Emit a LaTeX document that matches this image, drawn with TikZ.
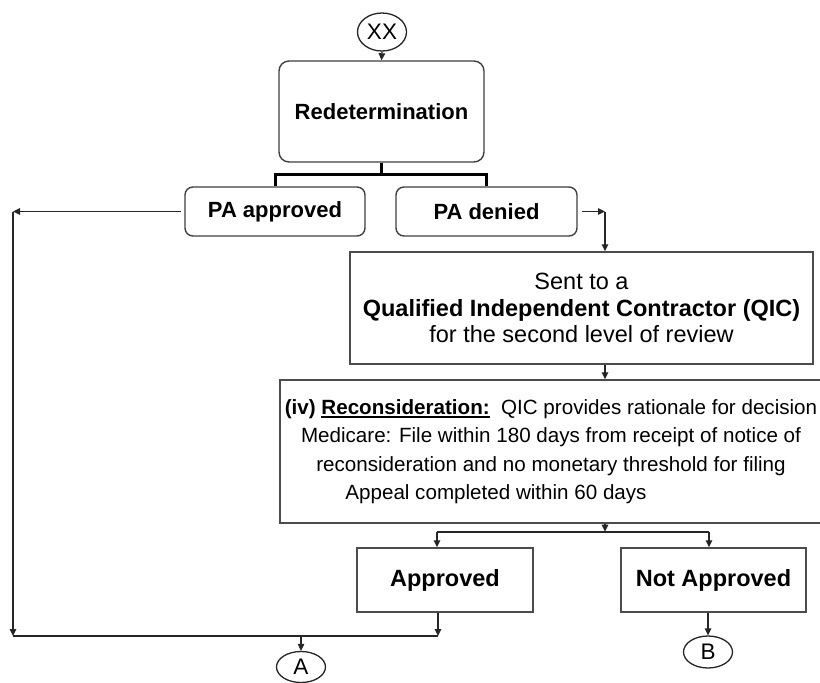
\documentclass[tikz,border=0pt]{standalone}
\usepackage{fontspec}
\setmainfont{Liberation Sans}
\usetikzlibrary{arrows.meta,shapes.geometric}
% bold word with a heavy underline
\newcommand\ulbold[1]{\setbox0\hbox{#1}\rlap{\rule[-3.5pt]{\wd0}{1.8pt}}\box0}
\begin{document}
\begin{tikzpicture}[x=1pt,y=-1pt,
  line/.style={draw=black!85, line width=1.3pt},
  arr/.style={line, -{Triangle[length=7pt,width=6.5pt]}},
  bar/.style={draw=black, line width=3pt},
  rbox/.style={draw=black!75, line width=1.4pt, rounded corners=10pt, inner sep=0pt,
    font=\fontsize{22}{26}\selectfont\bfseries},
  sbox/.style={draw=black!70, line width=1.4pt, inner sep=0pt, align=center},
  term/.style={ellipse, draw=black!85, line width=1.3pt, inner sep=0pt,
    minimum width=49pt, font=\fontsize{22.5}{26}\selectfont}]
\clip (0,0) rectangle (820,683);
\fill[white] (0,0) rectangle (820,683);

% top of the chart
\node[term, minimum height=38pt] (xx) at (382,32) {XX};
\node[rbox, minimum width=205pt, minimum height=101pt] (redet) at (381.5,111.5) {Redetermination};
\node[rbox, rounded corners=8pt, minimum width=180pt, minimum height=49pt] (pa) at (275,211.5) {PA approved};
\node[rbox, rounded corners=8pt, minimum width=181pt, minimum height=49pt] (pd) at (486.5,211.5) {PA denied};

% review boxes
\node[sbox, minimum width=463pt, minimum height=112pt, font=\fontsize{23.5}{26.5}\selectfont]
  (qic) at (581.5,308) {Sent to a\\\textbf{Qualified Independent Contractor (QIC)}\\for the second level of review};
\node[sbox, minimum width=542pt, minimum height=143pt, font=\fontsize{20.6}{28.5}\selectfont]
  (recon) at (551,451.5) {\textbf{(iv) \ulbold{Reconsideration:}}\ \ QIC provides rationale for decision\\
  Medicare: File within 180 days from receipt of notice of\hspace*{16pt}\\
  reconsideration and no monetary threshold for filing\hspace*{26pt}\\
  Appeal completed within 60 days\hspace*{110pt}};

% outcomes
\node[sbox, minimum width=176pt, minimum height=64pt, font=\fontsize{23.5}{26}\selectfont\bfseries]
  (appr) at (445,580) {Approved};
\node[sbox, minimum width=185pt, minimum height=64pt, font=\fontsize{23.5}{26}\selectfont\bfseries]
  (nappr) at (713.5,580) {Not Approved};
\node[term, minimum height=31pt] (A) at (301,667) {A};
\node[term, minimum height=32pt] (B) at (708,652) {B};

% junction points
\coordinate (barmid) at (381.5,174);
\coordinate (lt) at (13,211.5);
\coordinate (lb) at (13,636);
\coordinate (ab) at (438,636);
\coordinate (aj) at (301,636);
\coordinate (pr) at (605,211.5);
\coordinate (bl) at (437,532);
\coordinate (br) at (709,532);

% connectors
\draw[arr] (xx.south) -- (redet.north);
\draw[bar] (redet.south) -- (barmid);
\draw[bar] (pa.north) |- (barmid) -| (pd.north);

\draw[arr] ([xshift=-3pt]pa.west) -- (lt);
\draw[arr] (lt) -- (lb);
\draw[line] (lb) -- (ab);
\draw[arr] (ab |- appr.south) -- (ab);
\draw[arr] (aj) -- (A.north);

\draw[arr] ([xshift=4pt]pd.east) -- (pr);
\draw[arr] (pr) -- (pr |- qic.north);
\draw[arr] (pr |- qic.south) -- (pr |- recon.north);
\draw[arr] (pr |- recon.south) -- ++(0,8);
\draw[line] (bl) -- (br);
\draw[arr] (bl) -- (bl |- appr.north);
\draw[arr] (br) -- (br |- nappr.north);
\draw[arr] (B |- nappr.south) -- (B.north);
\end{tikzpicture}
\end{document}
